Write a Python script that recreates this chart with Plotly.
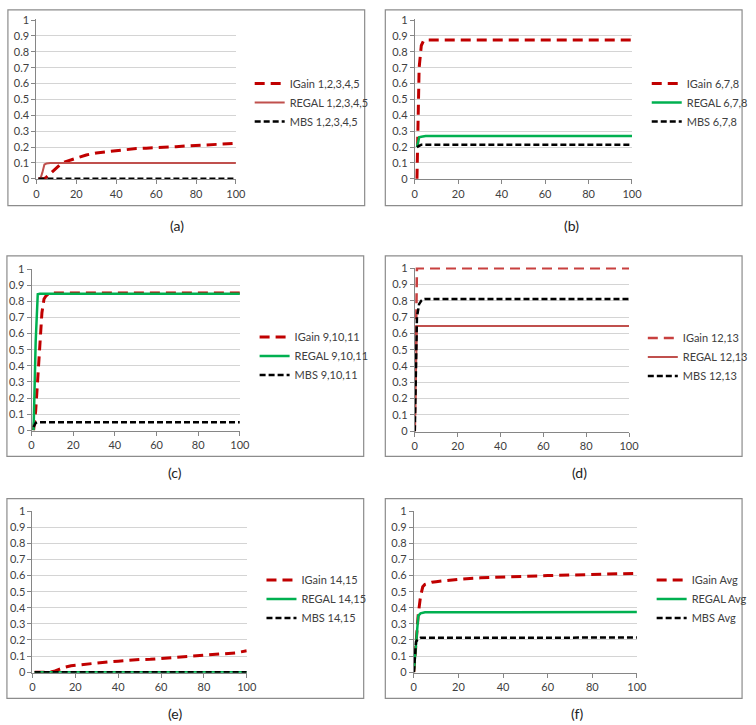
import plotly.graph_objects as go

W, H = 756, 725

# ---------------- data ----------------
# (a) tasks 1,2,3,4,5
igain_a_x = [1, 4, 5, 6, 8, 10, 12, 14, 16, 18, 20, 25, 30, 35, 40, 45, 50, 55, 60, 65, 70, 75, 80, 85, 90, 95, 100]
igain_a_y = [0, 0, 0.01, 0.022, 0.045, 0.068, 0.09, 0.105, 0.113, 0.12, 0.128, 0.15, 0.163, 0.17, 0.18, 0.187,
             0.19, 0.193, 0.195, 0.197, 0.202, 0.207, 0.211, 0.214, 0.217, 0.22, 0.223]
regal_a_x = [1, 2, 3, 4, 5, 7, 100]
regal_a_y = [0, 0, 0.04, 0.09, 0.096, 0.1, 0.1]
mbs_a_x = [1, 100]
mbs_a_y = [0, 0]

# (b) tasks 6,7,8
igain_b_x = [1, 2, 3, 4, 5, 100]
igain_b_y = [0, 0.7, 0.84, 0.87, 0.875, 0.875]
regal_b_x = [1, 2, 3, 5, 100]
regal_b_y = [0.2, 0.262, 0.265, 0.27, 0.27]
mbs_b_x = [1, 2, 3, 100]
mbs_b_y = [0.2, 0.21, 0.215, 0.215]

# (c) tasks 9,10,11
igain_c_x = [1, 2, 3, 4, 5, 6, 7, 8, 10, 100]
igain_c_y = [0, 0.12, 0.32, 0.55, 0.73, 0.815, 0.835, 0.845, 0.852, 0.852]
regal_c_x = [1, 2, 3, 4, 100]
regal_c_y = [0, 0.55, 0.845, 0.848, 0.848]
mbs_c_x = [1, 2, 3, 100]
mbs_c_y = [0.02, 0.045, 0.05, 0.05]

# (d) tasks 12,13
igain_d_x = [0, 1, 100]
igain_d_y = [0, 1, 1]
regal_d_x = [0, 1, 100]
regal_d_y = [0, 0.645, 0.645]
mbs_d_x = [0, 1, 2, 3, 4, 5, 100]
mbs_d_y = [0, 0.7, 0.78, 0.8, 0.81, 0.812, 0.812]

# (e) tasks 14,15
igain_e_x = [1, 8, 10, 12, 15, 18, 20, 25, 30, 35, 40, 45, 50, 55, 60, 65, 70, 75, 80, 85, 90, 95, 100]
igain_e_y = [0, 0, 0.005, 0.015, 0.03, 0.04, 0.043, 0.05, 0.055, 0.063, 0.068, 0.074, 0.078, 0.08, 0.085,
             0.092, 0.097, 0.1, 0.106, 0.11, 0.114, 0.12, 0.133]
regal_e_x = [1, 100]
regal_e_y = [0, 0]
mbs_e_x = [1, 100]
mbs_e_y = [0, 0]

# (f) average
igain_f_x = [0, 1, 2, 3, 4, 5, 6, 8, 10, 15, 20, 30, 40, 50, 60, 70, 80, 90, 100]
igain_f_y = [0, 0.2, 0.36, 0.47, 0.53, 0.545, 0.55, 0.558, 0.562, 0.57, 0.577, 0.586, 0.592, 0.596, 0.6,
             0.603, 0.607, 0.61, 0.614]
regal_f_x = [0, 1, 2, 3, 5, 100]
regal_f_y = [0, 0.2, 0.35, 0.365, 0.372, 0.373]
mbs_f_x = [0, 1, 2, 3, 100]
mbs_f_y = [0, 0.19, 0.205, 0.213, 0.215]

suffixes = ["1,2,3,4,5", "6,7,8", "9,10,11", "12,13", "14,15", "Avg"]
captions = ["(a)", "(b)", "(c)", "(d)", "(e)", "(f)"]
x_ticks = [0, 20, 40, 60, 80, 100]
y_ticks = [0, 0.1, 0.2, 0.3, 0.4, 0.5, 0.6, 0.7, 0.8, 0.9, 1]

series = [
    [(igain_a_x, igain_a_y), (regal_a_x, regal_a_y), (mbs_a_x, mbs_a_y)],
    [(igain_b_x, igain_b_y), (regal_b_x, regal_b_y), (mbs_b_x, mbs_b_y)],
    [(igain_c_x, igain_c_y), (regal_c_x, regal_c_y), (mbs_c_x, mbs_c_y)],
    [(igain_d_x, igain_d_y), (regal_d_x, regal_d_y), (mbs_d_x, mbs_d_y)],
    [(igain_e_x, igain_e_y), (regal_e_x, regal_e_y), (mbs_e_x, mbs_e_y)],
    [(igain_f_x, igain_f_y), (regal_f_x, regal_f_y), (mbs_f_x, mbs_f_y)],
]

# ---------------- styling / layout (pixels) ----------------
DARK_RED = "#C00000"
LIGHT_RED = "#C0504D"
GREEN = "#00B050"
igain_colors = [DARK_RED, DARK_RED, DARK_RED, "#C8403F", DARK_RED, DARK_RED]
igain_widths = [3, 3, 3, 2.5, 3, 3]
regal_colors = [LIGHT_RED, GREEN, GREEN, LIGHT_RED, GREEN, GREEN]
regal_widths = [2, 2.5, 2.5, 2, 2.5, 2.5]

# plot areas: (left, right, top, bottom)
plot_px = [
    (34, 237, 12.7, 175.3),
    (419, 640, 12.7, 175.3),
    (29, 241, 266, 431),
    (419, 637, 265, 432),
    (30, 248, 512, 677),
    (418, 645, 512, 677),
]
box_px = [
    (5, 368, 3, 202),
    (389, 752, 3, 202),
    (4, 367, 253, 457),
    (389, 752, 253, 457),
    (4, 367, 500, 703),
    (389, 752, 500, 703),
]
legend_px = [(251, 97), (655, 97), (256, 355), (651, 356), (263, 602), (660, 602)]
caption_px = [(177, 222), (578, 222), (175, 473), (587, 473), (175, 718), (584, 718)]

FONT = "Lato, 'Open Sans', sans-serif"
TXT = "#404040"


def px_x(v):
    return v / W


def px_y(v):
    return 1 - v / H


fig = go.Figure()
layout = dict(
    width=W, height=H, margin=dict(l=0, r=0, t=0, b=0),
    paper_bgcolor="white", plot_bgcolor="white",
    font=dict(family=FONT, size=11, color=TXT),
    shapes=[], annotations=[],
)

for i in range(6):
    n = i + 1
    ax = "" if n == 1 else str(n)
    leg = "legend" if n == 1 else f"legend{n}"
    (ix, iy), (rx, ry), (mx, my) = series[i]
    fig.add_trace(go.Scatter(
        x=ix, y=iy, mode="lines", name=f"IGain {suffixes[i]}",
        line=dict(color=igain_colors[i], width=igain_widths[i], dash="10px,6px"),
        xaxis=f"x{ax}", yaxis=f"y{ax}", legend=leg, legendgroup=f"g{n}a"))
    fig.add_trace(go.Scatter(
        x=rx, y=ry, mode="lines", name=f"REGAL {suffixes[i]}",
        line=dict(color=regal_colors[i], width=regal_widths[i]),
        xaxis=f"x{ax}", yaxis=f"y{ax}", legend=leg, legendgroup=f"g{n}b"))
    fig.add_trace(go.Scatter(
        x=mx, y=my, mode="lines", name=f"MBS {suffixes[i]}",
        line=dict(color="black", width=2.5, dash="6px,3px"),
        xaxis=f"x{ax}", yaxis=f"y{ax}", legend=leg, legendgroup=f"g{n}c"))

    l, r, t, b = plot_px[i]
    layout[f"xaxis{ax}"] = dict(
        domain=[px_x(l), px_x(r)], anchor=f"y{ax}", range=[0, 100],
        tickvals=x_ticks, ticktext=[str(v) for v in x_ticks],
        showgrid=False, zeroline=False, showline=True, linecolor="#868686", linewidth=1,
        ticks="outside", ticklen=4, tickcolor="#868686",
        tickfont=dict(family=FONT, size=11, color=TXT), fixedrange=True)
    layout[f"yaxis{ax}"] = dict(
        domain=[px_y(b), px_y(t)], anchor=f"x{ax}", range=[-0.004, 1.004],
        tickvals=y_ticks, ticktext=[f"{v:g}" for v in y_ticks],
        showgrid=True, gridcolor="#D4D4D4", gridwidth=1,
        zeroline=False, showline=True, linecolor="#868686", linewidth=1,
        ticks="outside", ticklen=4, tickcolor="#868686",
        tickfont=dict(family=FONT, size=11, color=TXT), fixedrange=True)

    lx, ly = legend_px[i]
    layout[leg] = dict(
        x=px_x(lx), y=px_y(ly), xanchor="left", yanchor="middle",
        xref="paper", yref="paper", bgcolor="rgba(0,0,0,0)", borderwidth=0,
        font=dict(family=FONT, size=11, color=TXT),
        traceorder="grouped", tracegroupgap=0, itemclick=False, itemdoubleclick=False)

    bl, br, bt, bb = box_px[i]
    layout["shapes"].append(dict(
        type="rect", xref="paper", yref="paper",
        x0=px_x(bl), x1=px_x(br), y0=px_y(bb), y1=px_y(bt),
        line=dict(color="#8C8C8C", width=1.2), fillcolor="rgba(0,0,0,0)", layer="below"))

    cx, cy = caption_px[i]
    layout["annotations"].append(dict(
        text=captions[i], x=px_x(cx), y=px_y(cy), xref="paper", yref="paper",
        showarrow=False, xanchor="center", yanchor="middle",
        font=dict(family=FONT, size=14, color="#222222")))

fig.update_layout(**layout)
fig.write_html(
    "out.html",
    config={"displayModeBar": False},
    post_script="document.body.style.margin='0';document.body.style.overflow='hidden';",
)
